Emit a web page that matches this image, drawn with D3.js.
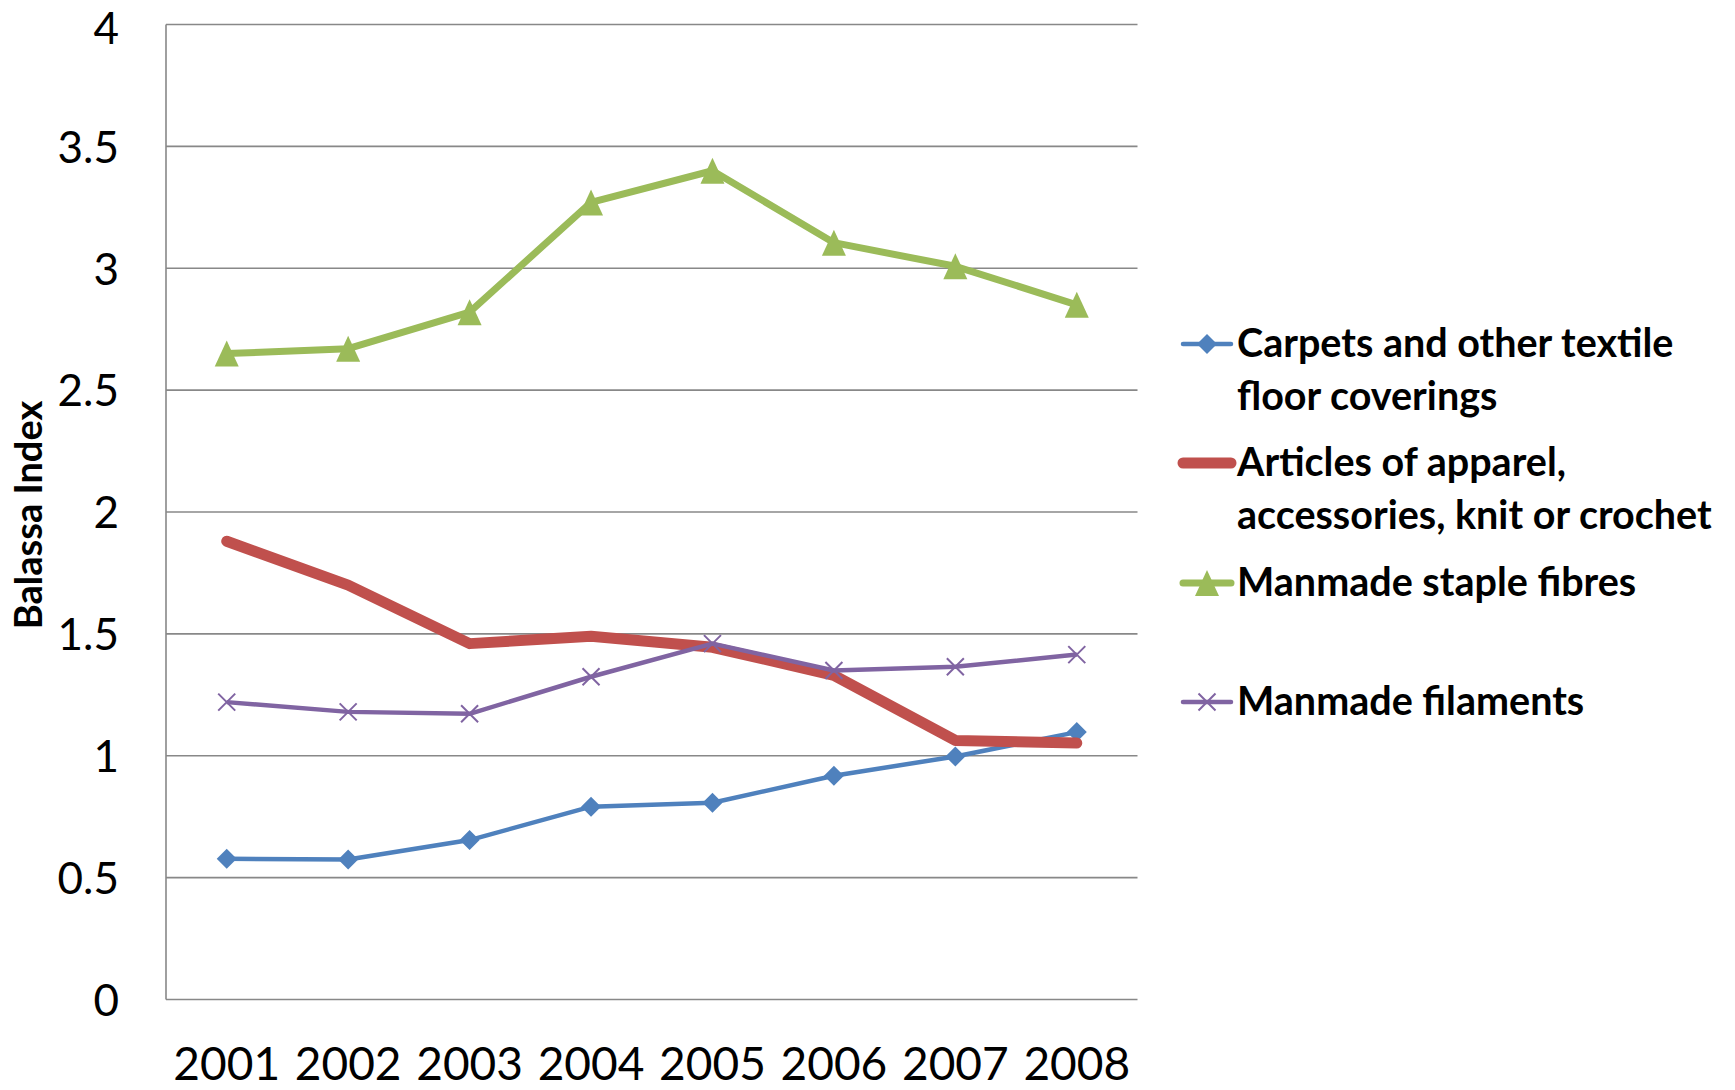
<!DOCTYPE html>
<html>
<head>
<meta charset="utf-8">
<script src="https://cdn.jsdelivr.net/npm/d3@7"></script>
<style>
  html, body { margin: 0; padding: 0; background: #fff; }
  svg { display: block; }
</style>
</head>
<body>
<svg id="chart" width="1735" height="1090"></svg>
<script>
// ---- data ----
const years = ["2001", "2002", "2003", "2004", "2005", "2006", "2007", "2008"];
const yTicks = [0, 0.5, 1, 1.5, 2, 2.5, 3, 3.5, 4];
const carpets   = [0.577, 0.574, 0.654, 0.791, 0.807, 0.918, 0.997, 1.097];
const apparel   = [1.88, 1.70, 1.46, 1.49, 1.445, 1.33, 1.063, 1.052];
const staple    = [2.65, 2.67, 2.82, 3.27, 3.40, 3.105, 3.008, 2.85];
const filaments = [1.22, 1.18, 1.172, 1.324, 1.46, 1.35, 1.365, 1.415];
const seriesNames = [
  ["Carpets and other textile", "floor coverings"],
  ["Articles of apparel,", "accessories, knit or crochet"],
  ["Manmade staple fibres"],
  ["Manmade filaments"]
];
const yTitle = "Balassa Index";

// ---- styles ----
const FONT = "Lato, 'Open Sans', sans-serif";
const series = [
  { values: carpets,   name: seriesNames[0], color: "#4F81BD", width: 4.5, marker: "diamond", cap: "butt" },
  { values: apparel,   name: seriesNames[1], color: "#C0504D", width: 11,  marker: "none",    cap: "round" },
  { values: staple,    name: seriesNames[2], color: "#9BBB59", width: 7,   marker: "triangle", cap: "butt" },
  { values: filaments, name: seriesNames[3], color: "#8064A2", width: 4.5, marker: "x",       cap: "butt" }
];

const svg = d3.select("#chart");
const plot = { left: 166, right: 1137.5, top: 24.5, bottom: 999.5 };

const x = d3.scaleBand().domain(years).range([plot.left, plot.right]);
const y = d3.scaleLinear().domain([0, 4]).range([plot.bottom, plot.top]);
const cx = d => x(d) + x.bandwidth() / 2;

// gridlines
svg.append("g")
  .selectAll("line")
  .data(yTicks)
  .join("line")
  .attr("x1", plot.left).attr("x2", plot.right)
  .attr("y1", d => y(d)).attr("y2", d => y(d))
  .attr("stroke", "#888888").attr("stroke-width", 1.6);

// left axis line
svg.append("line")
  .attr("x1", plot.left).attr("x2", plot.left)
  .attr("y1", y(4)).attr("y2", y(0))
  .attr("stroke", "#888888").attr("stroke-width", 1.6);

// y tick labels
const yAxis = d3.axisLeft(y).tickValues(yTicks).tickSize(0).tickPadding(47)
  .tickFormat(d => String(d));
const gy = svg.append("g").attr("transform", `translate(${plot.left},0)`).call(yAxis);
gy.select(".domain").remove();
gy.selectAll("text").attr("font-family", FONT).attr("font-size", 44).attr("fill", "#000")
  .attr("dy", d => d === 4 ? "0.43em" : "0.36em");

// x tick labels
const xAxis = d3.axisBottom(x).tickSize(0).tickPadding(47.5);
const gx = svg.append("g").attr("transform", `translate(0,${plot.bottom})`).call(xAxis);
gx.select(".domain").remove();
gx.selectAll("text").attr("font-family", FONT).attr("font-size", 46).attr("fill", "#000");

// y title
svg.append("text")
  .attr("transform", `translate(42,515) rotate(-90)`)
  .attr("text-anchor", "middle")
  .attr("font-family", FONT).attr("font-weight", "bold").attr("font-size", 38)
  .attr("fill", "#000")
  .text(yTitle);

// marker drawing
function drawMarker(g, type, color, px, py) {
  if (type === "diamond") {
    const r = 10;
    g.append("path")
      .attr("d", `M${px},${py - r}L${px + r},${py}L${px},${py + r}L${px - r},${py}Z`)
      .attr("fill", color);
  } else if (type === "triangle") {
    const w = 12, h = 13;
    g.append("path")
      .attr("d", `M${px},${py - h}L${px + w},${py + h}L${px - w},${py + h}Z`)
      .attr("fill", color);
  } else if (type === "x") {
    const r = 8.5;
    g.append("path")
      .attr("d", `M${px - r},${py - r}L${px + r},${py + r}M${px - r},${py + r}L${px + r},${py - r}`)
      .attr("stroke", color).attr("stroke-width", 2).attr("fill", "none");
  }
}

const line = d3.line().x((d, i) => cx(years[i])).y(d => y(d));

series.forEach(s => {
  const g = svg.append("g");
  g.append("path")
    .attr("d", line(s.values))
    .attr("fill", "none")
    .attr("stroke", s.color)
    .attr("stroke-width", s.width)
    .attr("stroke-linejoin", "round")
    .attr("stroke-linecap", s.cap);
  s.values.forEach((v, i) => drawMarker(g, s.marker, s.color, cx(years[i]), y(v)));
});

// legend
const legendRows = [
  { lineY: 344, baselines: [357, 410] },
  { lineY: 463, baselines: [476, 529] },
  { lineY: 583, baselines: [596] },
  { lineY: 702, baselines: [715] }
];
series.forEach((s, i) => {
  const r = legendRows[i];
  const g = svg.append("g");
  g.append("line")
    .attr("x1", 1183).attr("x2", 1231)
    .attr("y1", r.lineY).attr("y2", r.lineY)
    .attr("stroke", s.color).attr("stroke-width", s.width)
    .attr("stroke-linecap", "round");
  drawMarker(g, s.marker, s.color, 1207, r.lineY);
  s.name.forEach((t, j) => {
    g.append("text")
      .attr("x", 1237).attr("y", r.baselines[j])
      .attr("font-family", FONT).attr("font-weight", "bold").attr("font-size", 39.5)
      .attr("fill", "#000")
      .text(t);
  });
});
</script>
</body>
</html>
